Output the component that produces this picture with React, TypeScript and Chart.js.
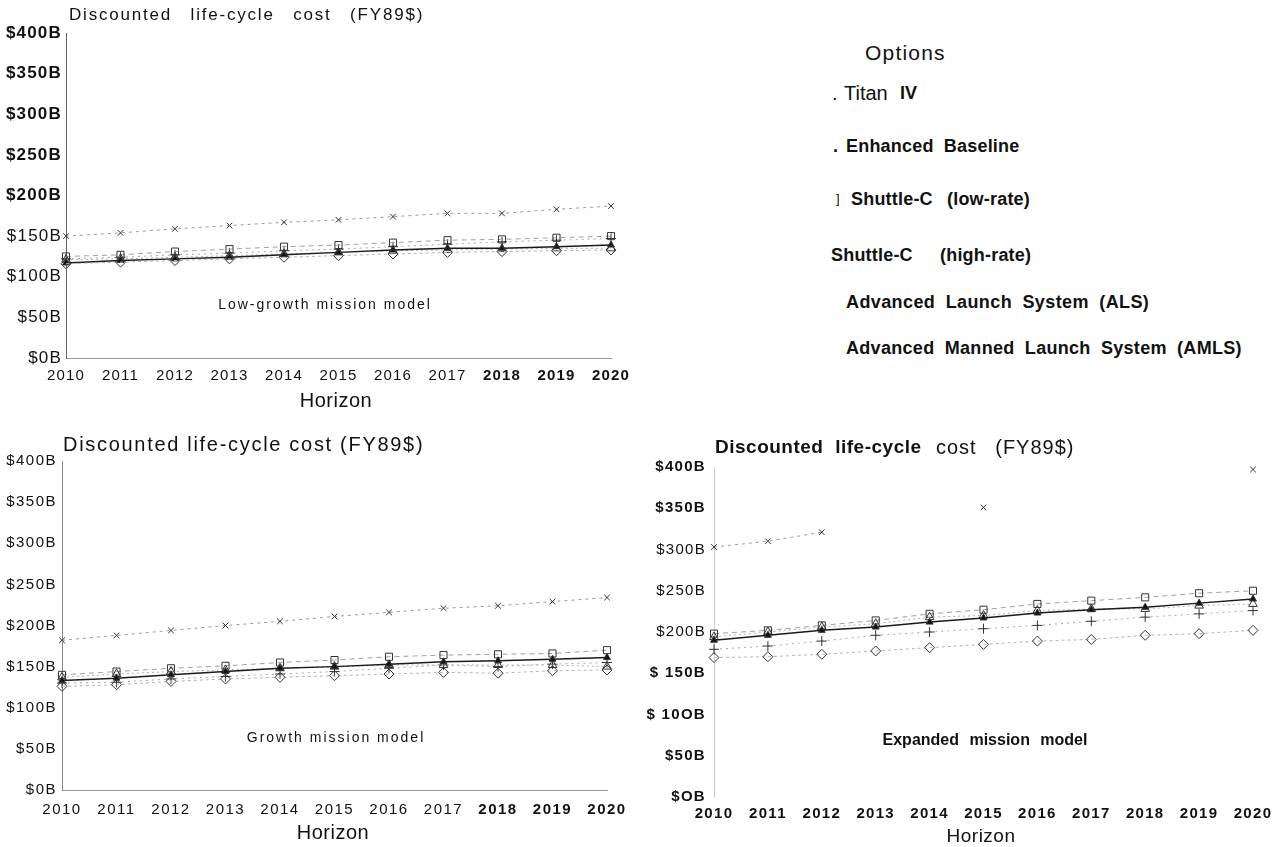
import React, { useEffect, useRef } from "react";
import { Chart, registerables } from "chart.js";
Chart.register(...registerables);

const FONT = '"Liberation Sans", Arial, Helvetica, sans-serif';

const years = ["2010", "2011", "2012", "2013", "2014", "2015", "2016", "2017", "2018", "2019", "2020"];
const seriesNames = [
  "Titan IV",
  "Enhanced Baseline",
  "Shuttle-C (low-rate)",
  "Shuttle-C (high-rate)",
  "Advanced Launch System (ALS)",
  "Advanced Manned Launch System (AMLS)",
];

// Low-growth mission model ($B)
const lowTitan = [150, 154, 159, 163, 167, 170, 174, 178, 178, 183, 187];
const lowEnhanced = [122, 124, 127, 129, 132, 134, 137, 140, 143, 145, 147];
const lowShuttleLow = [125, 127, 131, 134, 137, 139, 142, 145, 146, 148, 150];
const lowShuttleHigh = [121, 122, 124, 126, 128, 130, 132, 133, 134, 135, 135];
const lowALS = [117, 120, 122, 124, 127, 130, 133, 135, 135, 137, 139];
const lowAMLS = [116, 118, 120, 122, 124, 126, 128, 130, 131, 132, 133];

// Growth mission model ($B)
const grTitan = [182, 188, 194, 200, 205, 211, 216, 221, 224, 229, 234];
const grEnhanced = [130, 131, 135, 138, 141, 144, 148, 152, 150, 153, 155];
const grShuttleLow = [140, 144, 148, 151, 155, 158, 162, 164, 165, 166, 170];
const grShuttleHigh = [137, 141, 144, 146, 148, 150, 152, 152, 152, 152, 150];
const grALS = [133, 136, 140, 144, 148, 150, 153, 156, 157, 159, 161];
const grAMLS = [126, 128, 132, 135, 137, 139, 141, 143, 142, 145, 146];

// Expanded mission model ($B)
const exTitan = [303, 310, 321, null, null, 351, null, null, null, null, 397];
const exEnhanced = [179, 183, 189, 196, 200, 204, 208, 213, 218, 222, 226];
const exShuttleLow = [198, 202, 208, 214, 222, 227, 234, 238, 242, 247, 250];
const exShuttleHigh = [194, 200, 206, 210, 218, 220, 226, 228, 228, 232, 234];
const exALS = [190, 196, 202, 206, 212, 217, 223, 227, 230, 235, 240];
const exAMLS = [169, 170, 173, 177, 181, 185, 189, 191, 196, 198, 202];

// y tick labels, from $0B upward
const yTicksLow = ["$0B", "$50B", "$100B", "$150B", "$200B", "$250B", "$300B", "$350B", "$400B"];
const yTicksGrowth = ["$0B", "$50B", "$100B", "$150B", "$200B", "$250B", "$300B", "$350B", "$400B"];
const yTicksExpanded = ["$OB", "$50B", "$ 10OB", "$ 150B", "$200B", "$250B", "$300B", "$350B", "$400B"];

const seriesStyles = [
  { pointStyle: "crossRot", radius: 4, fill: false, line: "#9a9a9a", dash: [3, 4], width: 1 },
  { pointStyle: "cross", radius: 5, fill: false, line: "#a8a8a8", dash: [2, 4], width: 1 },
  { pointStyle: "rect", radius: 5, fill: false, line: "#a0a0a0", dash: [5, 4], width: 1 },
  { pointStyle: "triangle", radius: 5, fill: false, line: "#b0b0b0", dash: [2, 3], width: 1 },
  { pointStyle: "triangle", radius: 4, fill: true, line: "#1a1a1a", dash: [], width: 1.5 },
  { pointStyle: "rectRot", radius: 5, fill: false, line: "#b4b4b4", dash: [3, 3], width: 1 },
];

type TextItem = {
  text: string;
  x: number;
  y: number;
  font: string;
  align?: CanvasTextAlign;
  letter?: number;
  word?: number;
};

const textPlugin = {
  id: "panelTexts",
  beforeDraw(chart: any) {
    const ls = chart.options.plugins.panelTexts?.spacing || 0;
    (chart.ctx as any).letterSpacing = ls + "px";
  },
  afterDraw(chart: any) {
    const items: TextItem[] = chart.options.plugins.panelTexts?.items || [];
    const ctx = chart.ctx as any;
    ctx.save();
    for (const it of items) {
      ctx.font = it.font;
      ctx.fillStyle = "#111";
      ctx.textAlign = it.align || "left";
      ctx.textBaseline = "middle";
      ctx.letterSpacing = (it.letter || 0) + "px";
      ctx.wordSpacing = (it.word || 0) + "px";
      ctx.fillText(it.text, it.x, it.y);
    }
    ctx.restore();
  },
};

type PanelProps = {
  left: number;
  top: number;
  width: number;
  height: number;
  yWidth: number;
  xHeight: number;
  padTop: number;
  padRight: number;
  xPad: number;
  yPad: number;
  spacing: number;
  xSize: number;
  ySize: number;
  series: (number | null)[][];
  yTicks: string[];
  yBold: (v: number) => boolean;
  xBold: (i: number) => boolean;
  yBorder: { color: string; dash: number[]; width: number };
  xBorder: boolean;
  texts: TextItem[];
};

function Panel(p: PanelProps) {
  const ref = useRef<HTMLCanvasElement | null>(null);
  useEffect(() => {
    if (!ref.current) return;
    const datasets = p.series.map((d, i) => {
      const s = seriesStyles[i];
      return {
        label: seriesNames[i],
        data: d,
        pointStyle: s.pointStyle,
        pointRadius: s.radius,
        pointBorderColor: "#333",
        pointBorderWidth: 1,
        pointBackgroundColor: s.fill ? "#111" : "rgba(255,255,255,0)",
        borderColor: s.line,
        borderDash: s.dash,
        borderWidth: s.width,
        spanGaps: false,
        tension: 0,
        clip: false as any,
        order: 6 - i,
      };
    });
    const chart = new Chart(ref.current, {
      type: "line",
      data: { labels: years, datasets: datasets as any },
      plugins: [textPlugin as any],
      options: {
        responsive: false,
        animation: false,
        devicePixelRatio: 1,
        layout: { padding: { left: 0, top: p.padTop, right: p.padRight, bottom: 0 } },
        plugins: {
          legend: { display: false },
          title: { display: false },
          tooltip: { enabled: false },
          panelTexts: { items: p.texts, spacing: p.spacing },
        } as any,
        scales: {
          x: {
            type: "category",
            offset: false,
            grid: { display: false, drawTicks: false },
            border: { display: p.xBorder, color: "#9a9a9a", dash: [2, 3], width: 1 },
            ticks: {
              autoSkip: false,
              maxRotation: 0,
              padding: p.xPad,
              color: "#111",
              font: (c: any) => ({
                family: FONT,
                size: p.xSize,
                weight: p.xBold(c.index) ? "bold" : "normal",
              }),
            },
            afterFit: (s: any) => {
              s.height = p.xHeight;
            },
          },
          y: {
            min: 0,
            max: 400,
            grid: { display: false, drawTicks: false },
            border: { display: true, color: p.yBorder.color, dash: p.yBorder.dash, width: p.yBorder.width },
            ticks: {
              stepSize: 50,
              padding: p.yPad,
              color: "#111",
              callback: (v: any) => p.yTicks[Math.round(Number(v) / 50)],
              font: (c: any) => ({
                family: FONT,
                size: p.ySize,
                weight: p.yBold(c.tick?.value ?? 0) ? "bold" : "normal",
              }),
            },
            afterFit: (s: any) => {
              s.width = p.yWidth;
            },
          },
        },
      },
    });
    return () => chart.destroy();
  }, []);
  return (
    <canvas
      ref={ref}
      width={p.width}
      height={p.height}
      style={{ position: "absolute", left: p.left, top: p.top, width: p.width, height: p.height }}
    />
  );
}

type LegendPiece = { text: string; x: number; y: number; size: number; bold?: boolean; letter?: number; word?: number };

const legendPieces: LegendPiece[] = [
  { text: "Options", x: 865, y: 53, size: 21, letter: 1.2 },
  { text: ".", x: 832, y: 93, size: 20 },
  { text: "Titan", x: 844, y: 93, size: 20 },
  { text: "IV", x: 900, y: 93, size: 18, bold: true },
  { text: ".", x: 833, y: 146, size: 18, bold: true },
  { text: "Enhanced Baseline", x: 846, y: 146, size: 18, bold: true, letter: 0.2, word: 5 },
  { text: "]", x: 836, y: 199, size: 13 },
  { text: "Shuttle-C", x: 851, y: 199, size: 18, bold: true, letter: 0.2 },
  { text: "(low-rate)", x: 947, y: 199, size: 18, bold: true, letter: 0.2 },
  { text: "Shuttle-C", x: 831, y: 255, size: 18, bold: true, letter: 0.2 },
  { text: "(high-rate)", x: 940, y: 255, size: 18, bold: true, letter: 0.2 },
  { text: "Advanced Launch System (ALS)", x: 846, y: 302, size: 18, bold: true, letter: 0.4, word: 5 },
  { text: "Advanced Manned Launch System (AMLS)", x: 846, y: 348, size: 18, bold: true, letter: 0.3, word: 5 },
];

export default function App() {
  useEffect(() => {
    document.body.style.margin = "0";
    document.body.style.background = "#fff";
  }, []);
  return (
    <div style={{ position: "fixed", left: 0, top: 0, width: 1283, height: 847, background: "#fff", overflow: "hidden" }}>
      <Panel
        left={0}
        top={0}
        width={700}
        height={420}
        yWidth={66}
        xHeight={62}
        padTop={33}
        padRight={89}
        xPad={9}
        yPad={4}
        spacing={1.2}
        xSize={15}
        ySize={17}
        series={[lowTitan, lowEnhanced, lowShuttleLow, lowShuttleHigh, lowALS, lowAMLS]}
        yTicks={yTicksLow}
        yBold={(v) => v >= 200}
        xBold={(i) => i >= 8}
        yBorder={{ color: "#666", dash: [], width: 1 }}
        xBorder={true}
        texts={[
          { text: "Discounted life-cycle cost (FY89$)", x: 69, y: 15, font: `17px ${FONT}`, letter: 1.8, word: 12 },
          { text: "Low-growth mission model", x: 325, y: 305, font: `14px ${FONT}`, align: "center", letter: 2 },
          { text: "Horizon", x: 336, y: 401, font: `20px ${FONT}`, align: "center", letter: 0.5 },
        ]}
      />
      <Panel
        left={0}
        top={400}
        width={700}
        height={447}
        yWidth={62}
        xHeight={57}
        padTop={61}
        padRight={93}
        xPad={11}
        yPad={5}
        spacing={1.5}
        xSize={15}
        ySize={15}
        series={[grTitan, grEnhanced, grShuttleLow, grShuttleHigh, grALS, grAMLS]}
        yTicks={yTicksGrowth}
        yBold={() => false}
        xBold={(i) => i >= 8}
        yBorder={{ color: "#888", dash: [6, 3], width: 1 }}
        xBorder={true}
        texts={[
          { text: "Discounted life-cycle cost (FY89$)", x: 63, y: 45, font: `20px ${FONT}`, letter: 1.7 },
          { text: "Growth mission model", x: 336, y: 338, font: `14px ${FONT}`, align: "center", letter: 2 },
          { text: "Horizon", x: 333, y: 433, font: `20px ${FONT}`, align: "center", letter: 0.5 },
        ]}
      />
      <Panel
        left={640}
        top={400}
        width={643}
        height={447}
        yWidth={74}
        xHeight={50}
        padTop={67}
        padRight={30}
        xPad={8}
        yPad={8}
        spacing={1.3}
        xSize={15}
        ySize={15}
        series={[exTitan, exEnhanced, exShuttleLow, exShuttleHigh, exALS, exAMLS]}
        yTicks={yTicksExpanded}
        yBold={(v) => !(v >= 200 && v <= 300)}
        xBold={() => true}
        yBorder={{ color: "#ccc", dash: [4, 4], width: 1 }}
        xBorder={false}
        texts={[
          { text: "Discounted life-cycle", x: 75, y: 48, font: `bold 19px ${FONT}`, letter: 0.5, word: 6 },
          { text: "cost (FY89$)", x: 296, y: 48, font: `20px ${FONT}`, letter: 1, word: 12 },
          { text: "Expanded mission model", x: 345, y: 341, font: `bold 16px ${FONT}`, align: "center", word: 6 },
          { text: "Horizon", x: 341, y: 437, font: `19px ${FONT}`, align: "center", letter: 0.5 },
        ]}
      />
      {legendPieces.map((lp, i) => (
        <div
          key={i}
          style={{
            position: "absolute",
            left: lp.x,
            top: lp.y - 12,
            height: 24,
            lineHeight: "24px",
            whiteSpace: "pre",
            fontFamily: FONT,
            fontSize: lp.size,
            fontWeight: lp.bold ? "bold" : "normal",
            letterSpacing: lp.letter || 0,
            wordSpacing: lp.word || 0,
            color: "#111",
          }}
        >
          {lp.text}
        </div>
      ))}
    </div>
  );
}
